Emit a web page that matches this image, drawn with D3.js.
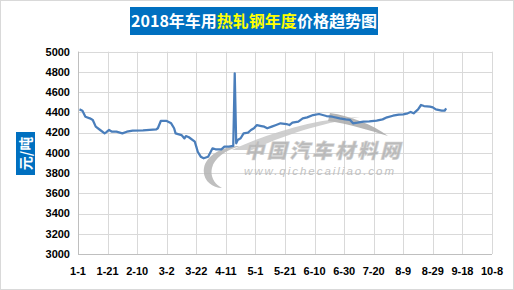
<!DOCTYPE html>
<html><head><meta charset="utf-8">
<script src="https://cdn.jsdelivr.net/npm/d3@7"></script>
<style>body{margin:0;background:#fff}svg{display:block}</style>
</head><body>
<svg id="c" width="514" height="290"></svg>
<script>
// ---- data ----
const dates = ["1-2","1-4","1-6","1-9","1-11","1-13","1-16","1-19","1-20","1-22","1-24","1-27","1-31","2-3","2-7","2-14","2-23","2-24","2-26","3-2","3-5","3-7","3-8","3-12","3-14","3-15","3-17","3-21","3-22","3-23","3-25","3-27","3-30","4-2","4-4","4-8","4-10","4-13","4-16","4-17","4-18","4-19","4-21","4-23","4-26","4-28","4-30","5-2","5-5","5-7","5-9","5-12","5-15","5-18","5-22","5-24","5-26","5-30","6-2","6-5","6-9","6-13","6-18","6-22","6-27","7-1","7-4","7-6","7-9","7-13","7-17","7-22","7-26","7-29","8-2","8-6","8-9","8-12","8-14","8-16","8-19","8-21","8-23","8-27","8-29","8-31","9-4","9-6","9-7"];
const prices = [4430,4417,4357,4341,4325,4259,4226,4193,4203,4226,4209,4209,4193,4209,4219,4223,4233,4243,4315,4315,4292,4243,4193,4176,4143,4166,4154,4110,4061,4011,3962,3946,3962,4045,4035,4035,4061,4061,4068,4786,4094,4127,4144,4193,4200,4226,4243,4275,4265,4259,4243,4259,4275,4292,4285,4275,4298,4308,4341,4351,4374,4384,4364,4357,4341,4331,4325,4292,4298,4308,4311,4318,4331,4351,4367,4377,4381,4391,4404,4391,4430,4473,4463,4457,4450,4430,4417,4417,4440];
const xTickLabels = ["1-1","1-21","2-10","3-2","3-22","4-11","5-1","5-21","6-10","6-30","7-20","8-9","8-29","9-18","10-8"];
const yTicks = [3000,3200,3400,3600,3800,4000,4200,4400,4600,4800,5000];
const titleParts = [["2018年车用","#ffffff"],["热轧钢年度","#ffff00"],["价格趋势图","#ffffff"]];
const yTitle = "元/吨";

// ---- setup ----
const parse = s => { const [m,d] = s.split("-").map(Number); return new Date(Date.UTC(2018, m-1, d)); };
const svg = d3.select("#c");
const L = 78, R = 492, T = 51.7, B = 254;
const x = d3.scaleUtc().domain([parse("1-1"), parse("10-8")]).range([L, R]);
const y = d3.scaleLinear().domain([3000, 5000]).range([B, T]);
const tickDates = xTickLabels.map(parse);
const font = "'Liberation Sans', Arial, sans-serif";

svg.append("rect").attr("x",0.5).attr("y",0.5).attr("width",513).attr("height",289)
  .attr("fill","#fff").attr("stroke","#d9d9d9");

// grid
const g = svg.append("g");
g.selectAll("line.h").data(yTicks).join("line")
  .attr("x1",L).attr("x2",R).attr("y1",d=>Math.round(y(d))+0.5).attr("y2",d=>Math.round(y(d))+0.5)
  .attr("stroke","#d9d9d9").attr("stroke-width",1);
g.selectAll("line.v").data(tickDates).join("line")
  .attr("y1",T).attr("y2",B).attr("x1",d=>Math.round(x(d))+0.5).attr("x2",d=>Math.round(x(d))+0.5)
  .attr("stroke","#d9d9d9").attr("stroke-width",1);

// watermark
const wm = svg.append("g").attr("opacity",0.85);
wm.append("path")
  .attr("d","M232,150 C270,132 320,118 360,117 C330,122 290,132 252,150 Z")
  .attr("fill","#c8c8c8");
wm.append("path")
  .attr("d","M330,113 C350,116 372,124 388,136 C368,130 350,124 328,121 Z")
  .attr("fill","#aaaaaa");
wm.append("path")
  .attr("d","M240,146 C222,146 206,156 204,168 C202,180 212,188 222,188 C214,184 210,176 212,168 C214,158 226,150 240,146 Z")
  .attr("fill","#b4b4b4");
wm.append("text").attr("x",244).attr("y",158).attr("font-family","'Noto Sans CJK SC', sans-serif")
  .attr("font-weight","900").attr("font-style","italic").attr("font-size",20)
  .attr("textLength",156).attr("fill","#b0b0b0").attr("stroke","#d0d0d0").attr("stroke-width",0.5)
  .text("中国汽车材料网");
wm.append("text").attr("x",244).attr("y",175).attr("font-family",font)
  .attr("font-style","italic").attr("font-size",11.5).attr("textLength",150)
  .attr("fill","#b8b8b8").text("www.qichecailiao.com");

// axes lines
svg.append("line").attr("x1",L+0.5).attr("x2",L+0.5).attr("y1",T).attr("y2",B).attr("stroke","#bfbfbf");
svg.append("line").attr("x1",L).attr("x2",R).attr("y1",B+0.5).attr("y2",B+0.5).attr("stroke","#bfbfbf");

// y labels
svg.selectAll("text.yl").data(yTicks).join("text")
  .attr("x",70).attr("y",d=>y(d)).attr("dy","0.35em").attr("text-anchor","end")
  .attr("font-family",font).attr("font-weight","bold").attr("font-size",11).attr("fill","#000")
  .text(d=>d);
// x labels
svg.selectAll("text.xl").data(tickDates).join("text")
  .attr("x",d=>x(d)).attr("y",275).attr("text-anchor","middle")
  .attr("font-family",font).attr("font-weight","bold").attr("font-size",11).attr("fill","#000")
  .text((d,i)=>xTickLabels[i]);

// line
const pts = dates.map((d,i)=>({d:parse(d), v:prices[i]}));
svg.append("path").datum(pts)
  .attr("d", d3.line().x(p=>x(p.d)).y(p=>y(p.v)))
  .attr("fill","none").attr("stroke","#4a7ebb").attr("stroke-width",2.25).attr("stroke-linejoin","round");

// title
svg.append("rect").attr("x",130).attr("y",7).attr("width",248).attr("height",28).attr("fill","#0070c0");
const tt = svg.append("text").attr("x",254).attr("y",27).attr("text-anchor","middle")
  .attr("font-family","'Noto Sans CJK SC', sans-serif").attr("font-weight","bold").attr("font-size",16);
titleParts.forEach(([t,c])=>tt.append("tspan").attr("fill",c).text(t));

// y title
svg.append("rect").attr("x",16).attr("y",132).attr("width",19).attr("height",43).attr("fill","#0070c0");
svg.append("text").attr("transform","translate(25.5,153.5) rotate(-90)").attr("text-anchor","middle")
  .attr("dy","0.36em").attr("font-family","'Noto Sans CJK SC', sans-serif").attr("font-weight","bold")
  .attr("font-size",14).attr("fill","#fff").text(yTitle);
</script>
</body></html>
